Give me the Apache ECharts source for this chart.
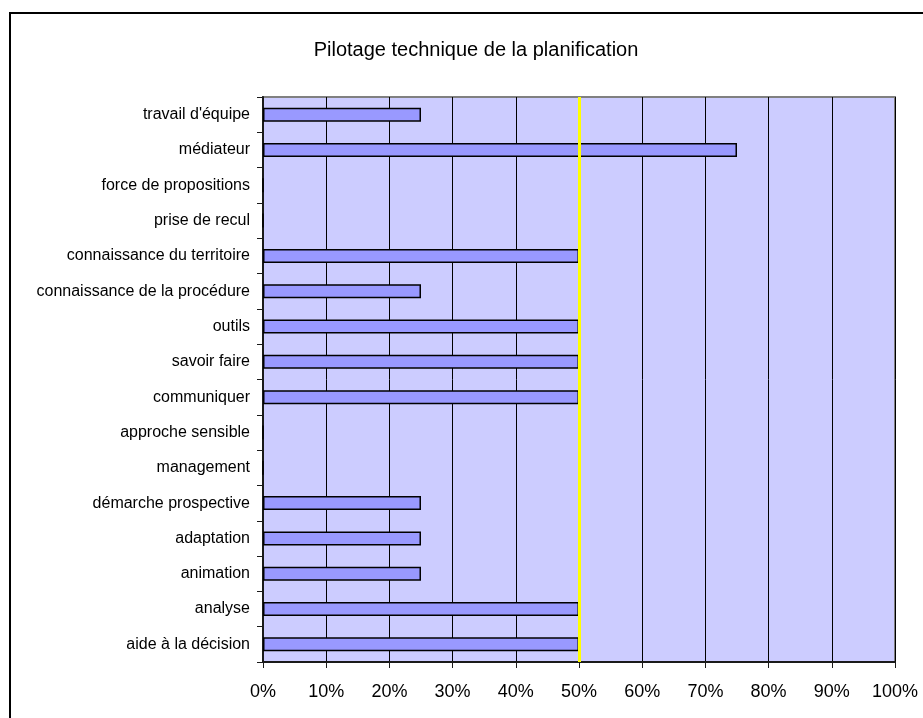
<!DOCTYPE html>
<html>
<head>
<meta charset="utf-8">
<script src="https://cdn.jsdelivr.net/npm/echarts@6/dist/echarts.min.js"></script>
<style>
  html, body { margin: 0; padding: 0; background: #ffffff; }
  #chart { width: 923px; height: 718px; }
</style>
</head>
<body>
<div id="chart"></div>
<script>
// Competences, listed bottom-to-top as the category axis draws them
const categories = [
  "aide à la décision",
  "analyse",
  "animation",
  "adaptation",
  "démarche prospective",
  "management",
  "approche sensible",
  "communiquer",
  "savoir faire",
  "outils",
  "connaissance de la procédure",
  "connaissance du territoire",
  "prise de recul",
  "force de propositions",
  "médiateur",
  "travail d'équipe"
];

// Share of answers per competence (%)
const values = [50, 50, 25, 25, 25, 0, 0, 50, 50, 50, 25, 50, 0, 0, 75, 25];

// Reference threshold drawn as a vertical line (%)
const threshold = 50;

const chartTitle = "Pilotage technique de la planification";

const chart = echarts.init(document.getElementById('chart'), null, { renderer: 'canvas' });

chart.setOption({
  animation: false,
  backgroundColor: '#ffffff',
  textStyle: { fontFamily: 'Liberation Sans, Arial, sans-serif' },
  graphic: [
    {
      type: 'rect',
      shape: { x: 10, y: 13, width: 1000, height: 1000 },
      style: { fill: 'none', stroke: '#000000', lineWidth: 2 },
      silent: true,
      z: 0
    },
    {
      type: 'text',
      x: 476,
      y: 50,
      style: {
        text: chartTitle,
        fill: '#000000',
        font: '20px "Liberation Sans", Arial, sans-serif',
        textAlign: 'center',
        textVerticalAlign: 'middle'
      },
      z: 10
    }
  ],
  grid: {
    left: 263,
    right: 28,
    top: 97,
    bottom: 56,
    show: true,
    backgroundColor: '#CCCCFF',
    borderColor: '#808080',
    borderWidth: 2
  },
  xAxis: {
    type: 'value',
    min: 0,
    max: 100,
    interval: 10,
    axisLine: { show: true, onZero: false, lineStyle: { color: '#1a1a1a', width: 2 } },
    axisTick: { show: true, length: 6, lineStyle: { color: '#1a1a1a', width: 1 } },
    axisLabel: {
      formatter: '{value}%',
      color: '#000000',
      fontSize: 18,
      margin: 21,
      fontFamily: 'Liberation Sans, Arial, sans-serif'
    },
    splitLine: { show: true, lineStyle: { color: '#000000', width: 1 } }
  },
  yAxis: {
    type: 'category',
    data: categories,
    boundaryGap: true,
    axisLine: { show: true, lineStyle: { color: '#1a1a1a', width: 2 } },
    axisTick: { show: true, length: 6, alignWithLabel: false, lineStyle: { color: '#1a1a1a', width: 1 } },
    axisLabel: {
      color: '#000000',
      fontSize: 16,
      margin: 13,
      interval: 0,
      fontFamily: 'Liberation Sans, Arial, sans-serif'
    },
    splitLine: { show: false }
  },
  series: [
    {
      type: 'bar',
      data: values,
      barWidth: 14,
      itemStyle: { color: '#9999FF', borderColor: '#000000', borderWidth: 1.5 },
      markLine: {
        silent: true,
        symbol: 'none',
        label: { show: false },
        lineStyle: { color: '#FFFF00', width: 3, type: 'solid' },
        data: [{ xAxis: threshold }],
        z: 5
      }
    }
  ]
});
</script>
</body>
</html>
